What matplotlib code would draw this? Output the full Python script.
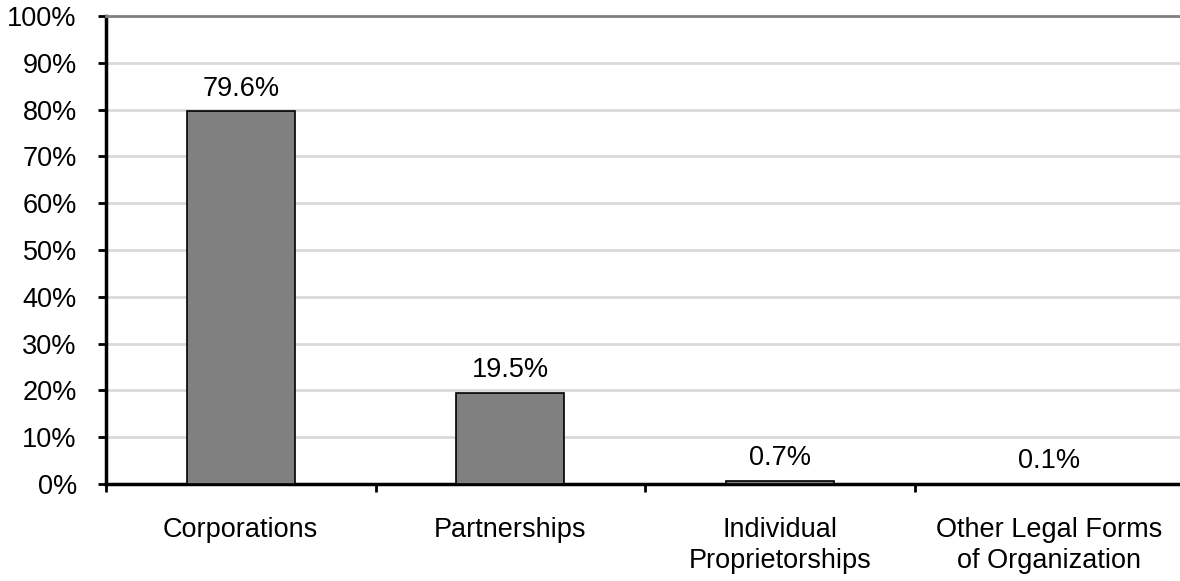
import matplotlib.pyplot as plt
from matplotlib.ticker import FixedLocator, PercentFormatter

plt.rcParams['font.family'] = ['Liberation Sans', 'DejaVu Sans']

# ---------------------------
# Data
# ---------------------------

categories = ["Corporations", "Partnerships", "Individual\nProprietorships",
              "Other Legal Forms\nof Organization"]
shares = [79.6, 19.5, 0.7, 0.1]
bar_labels = ["79.6%", "19.5%", "0.7%", "0.1%"]

# ---------------------------
# Plot
# ---------------------------

fs = 19.5

fig = plt.figure(figsize=(11.8, 5.81), dpi=100)
ax = fig.add_axes([106 / 1180, 1 - 484 / 581, 1078 / 1180, 468 / 581])

x = list(range(len(categories)))
ax.bar(x, shares, width=0.4, color="#808080", edgecolor="black", linewidth=1.2, zorder=3)

for xi, v, lab in zip(x, shares, bar_labels):
    ax.annotate(lab, (xi, v), xytext=(0, 7), textcoords="offset points",
                ha="center", va="bottom", fontsize=fs)

ax.set_xlim(-0.5, len(categories) - 0.5)
ax.set_ylim(0, 100)
ax.set_yticks(range(0, 101, 10))
ax.yaxis.set_major_formatter(PercentFormatter(decimals=0))
ax.grid(axis="y", color="#d9d9d9", linewidth=2, zorder=0)

# boundaries get the tick marks, centres get the labels
ax.xaxis.set_major_locator(FixedLocator([i - 0.5 for i in range(len(categories))]))
ax.xaxis.set_minor_locator(FixedLocator(x))
ax.set_xticklabels([], minor=False)
ax.set_xticklabels(categories, minor=True, fontsize=fs, linespacing=1.25)
ax.tick_params(axis="x", which="major", length=6, width=2, direction="out")
ax.tick_params(axis="x", which="minor", length=0, pad=24)
ax.tick_params(axis="y", length=6, width=2, labelsize=fs, pad=15)

for s in ["left", "bottom"]:
    ax.spines[s].set_linewidth(2.5)
ax.spines["right"].set_visible(False)
ax.spines["top"].set_color("#808080")
ax.spines["top"].set_linewidth(2)

fig.savefig("out.png", dpi=100)
